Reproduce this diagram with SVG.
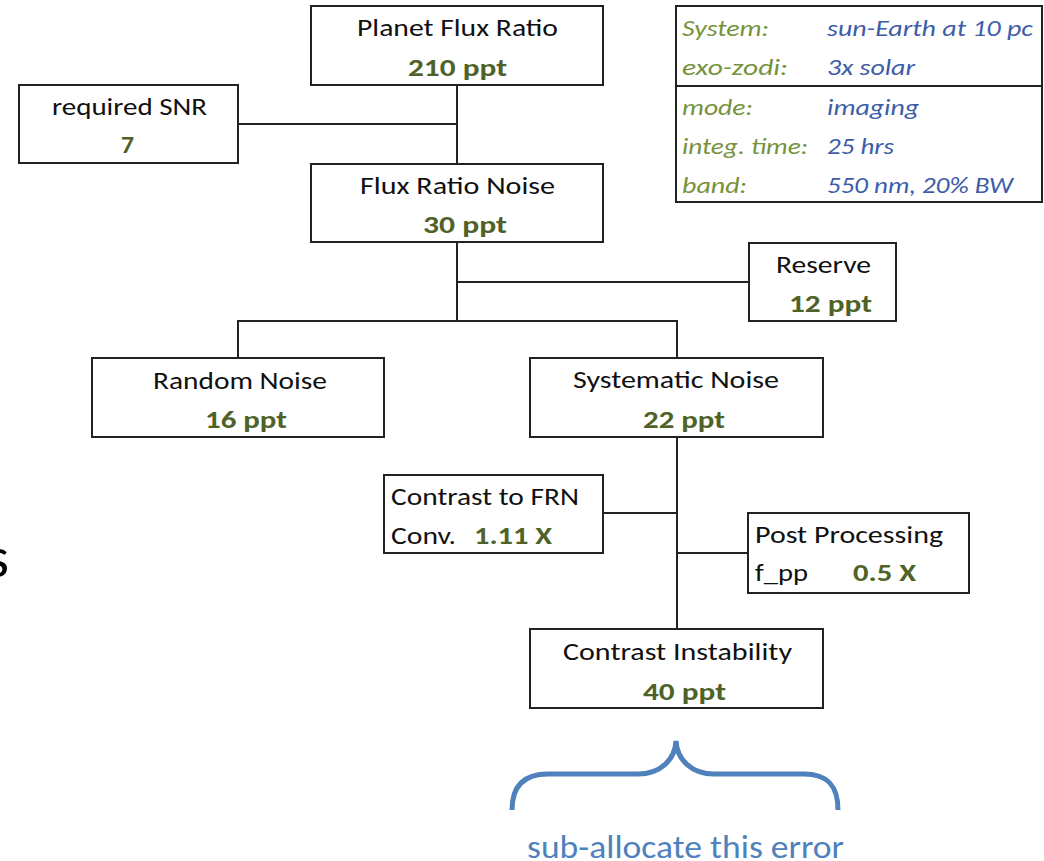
<svg xmlns="http://www.w3.org/2000/svg" width="1044" height="861" viewBox="0 0 1044 861">
<style>
.box{fill:#fff;stroke:#222;stroke-width:2}
.ln{stroke:#222;stroke-width:2;fill:none}
.t{font-family:Carlito,"Liberation Sans",Arial,sans-serif;font-size:24px;fill:#111}
.v{font-family:Carlito,"Liberation Sans",Arial,sans-serif;font-size:24px;font-weight:bold;fill:#4F6228}
.lab{font-family:Carlito,"Liberation Sans",Arial,sans-serif;font-size:21.5px;font-style:italic;fill:#76923C}
.val{font-family:Carlito,"Liberation Sans",Arial,sans-serif;font-size:21.5px;font-style:italic;fill:#3D5DA8}
</style>
<rect width="1044" height="861" fill="#fff"/>
<text x="9" y="577" text-anchor="end" style="font-family:Carlito,'Liberation Sans',Arial,sans-serif;font-size:58px;fill:#000">s</text>
<g id="connectors">
<line class="ln" x1="457" y1="85" x2="457" y2="164"/>
<line class="ln" x1="238" y1="124" x2="457" y2="124"/>
<line class="ln" x1="457" y1="242" x2="457" y2="321"/>
<line class="ln" x1="457" y1="282" x2="749" y2="282"/>
<line class="ln" x1="238" y1="321" x2="677" y2="321"/>
<line class="ln" x1="238" y1="320" x2="238" y2="358"/>
<line class="ln" x1="677" y1="320" x2="677" y2="358"/>
<line class="ln" x1="677" y1="437" x2="677" y2="629"/>
<line class="ln" x1="603" y1="513" x2="677" y2="513"/>
<line class="ln" x1="677" y1="553" x2="748" y2="553"/>
</g>
<g id="planet-flux-ratio">
<rect class="box" x="311" y="6" width="292" height="79"/>
<text class="t" x="357" y="36" textLength="201" lengthAdjust="spacingAndGlyphs">Planet Flux Ratio</text>
<text class="v" x="408" y="76" textLength="99" lengthAdjust="spacingAndGlyphs">210 ppt</text>
</g>
<g id="required-snr">
<rect class="box" x="19" y="85" width="219" height="78"/>
<text class="t" x="52" y="115" textLength="155" lengthAdjust="spacingAndGlyphs">required SNR</text>
<text class="v" x="121" y="153" textLength="13" lengthAdjust="spacingAndGlyphs">7</text>
</g>
<g id="flux-ratio-noise">
<rect class="box" x="311" y="164" width="292" height="78"/>
<text class="t" x="360" y="194" textLength="195" lengthAdjust="spacingAndGlyphs">Flux Ratio Noise</text>
<text class="v" x="423" y="233" textLength="84" lengthAdjust="spacingAndGlyphs">30 ppt</text>
</g>
<g id="reserve">
<rect class="box" x="749" y="243" width="147" height="78"/>
<text class="t" x="776" y="273" textLength="95" lengthAdjust="spacingAndGlyphs">Reserve</text>
<text class="v" x="789" y="312" textLength="83" lengthAdjust="spacingAndGlyphs">12 ppt</text>
</g>
<g id="random-noise">
<rect class="box" x="92" y="358" width="292" height="79"/>
<text class="t" x="153" y="389" textLength="174" lengthAdjust="spacingAndGlyphs">Random Noise</text>
<text class="v" x="205" y="428" textLength="82" lengthAdjust="spacingAndGlyphs">16 ppt</text>
</g>
<g id="systematic-noise">
<rect class="box" x="530" y="358" width="293" height="79"/>
<text class="t" x="573" y="388" textLength="206" lengthAdjust="spacingAndGlyphs">Systematic Noise</text>
<text class="v" x="643" y="428" textLength="82" lengthAdjust="spacingAndGlyphs">22 ppt</text>
</g>
<g id="contrast-to-frn">
<rect class="box" x="384" y="475" width="219" height="78"/>
<text class="t" x="391" y="505" textLength="188" lengthAdjust="spacingAndGlyphs">Contrast to FRN</text>
<text class="t" x="391" y="544" textLength="65" lengthAdjust="spacingAndGlyphs">Conv.</text>
<text class="v" x="474" y="544" textLength="78" lengthAdjust="spacingAndGlyphs">1.11 X</text>
</g>
<g id="post-processing">
<rect class="box" x="748" y="513" width="221" height="80"/>
<text class="t" x="755" y="543" textLength="188" lengthAdjust="spacingAndGlyphs">Post Processing</text>
<text class="t" x="755" y="581" textLength="53" lengthAdjust="spacingAndGlyphs">f_pp</text>
<text class="v" x="853" y="581" textLength="63" lengthAdjust="spacingAndGlyphs">0.5 X</text>
</g>
<g id="contrast-instability">
<rect class="box" x="530" y="629" width="293" height="79"/>
<text class="t" x="563" y="660" textLength="229" lengthAdjust="spacingAndGlyphs">Contrast Instability</text>
<text class="v" x="643" y="700" textLength="83" lengthAdjust="spacingAndGlyphs">40 ppt</text>
</g>
<g id="parameters-table">
<rect class="box" x="676" y="6" width="366" height="196"/>
<line class="ln" x1="676" y1="86" x2="1042" y2="86"/>
<text class="lab" x="682" y="36" textLength="87" lengthAdjust="spacingAndGlyphs">System:</text>
<text class="val" x="827" y="36" textLength="206" lengthAdjust="spacingAndGlyphs">sun-Earth at 10 pc</text>
<text class="lab" x="682" y="75" textLength="106" lengthAdjust="spacingAndGlyphs">exo-zodi:</text>
<text class="val" x="827" y="75" textLength="88" lengthAdjust="spacingAndGlyphs">3x solar</text>
<text class="lab" x="682" y="115" textLength="71" lengthAdjust="spacingAndGlyphs">mode:</text>
<text class="val" x="827" y="115" textLength="92" lengthAdjust="spacingAndGlyphs">imaging</text>
<text class="lab" x="682" y="154" textLength="126" lengthAdjust="spacingAndGlyphs">integ. time:</text>
<text class="val" x="827" y="154" textLength="67" lengthAdjust="spacingAndGlyphs">25 hrs</text>
<text class="lab" x="682" y="193" textLength="65" lengthAdjust="spacingAndGlyphs">band:</text>
<text class="val" x="827" y="193" textLength="186" lengthAdjust="spacingAndGlyphs">550 nm, 20% BW</text>
</g>
<g id="sub-allocate">
<path d="M512,810 C512,785 525,774 548,774 L638,774 C660,774 675,760 676,741 C677,760 692,774 714,774 L804,774 C827,774 838,785 838,810" fill="none" stroke="#4F81BD" stroke-width="5"/>
<text x="527" y="858" textLength="317" lengthAdjust="spacingAndGlyphs" style="font-family:Carlito,'Liberation Sans',Arial,sans-serif;font-size:33px;fill:#4F81BD">sub-allocate this error</text>
</g>
</svg>
